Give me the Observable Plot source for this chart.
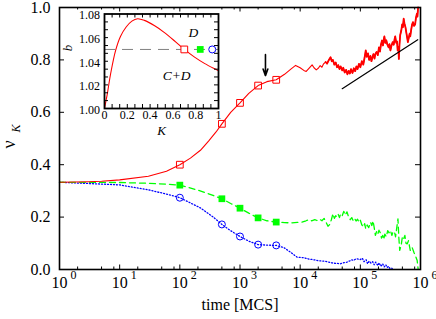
<!DOCTYPE html>
<html><head><meta charset="utf-8">
<script src="https://cdn.jsdelivr.net/npm/d3@7"></script>
<script src="https://cdn.jsdelivr.net/npm/@observablehq/plot@0.6"></script>
<style>
html,body{margin:0;padding:0;background:#fff;}
#chart{position:relative;width:436px;height:319px;overflow:hidden;background:#fff;}
#chart svg{position:absolute;}
</style></head><body><div id="chart"></div>
<script>
// ---- main chart data: [time (MCS), nu_K] ----
const redSeries = [[1,0.333],[3,0.335],[5,0.337],[10,0.342],[30,0.356],[60,0.375],[100,0.400],[150,0.425],[220,0.455],[300,0.49],[400,0.525],[500,0.556],[700,0.600],[1000,0.636],[1400,0.672],[2000,0.702],[2800,0.717],[4000,0.724],[5500,0.745],[7000,0.765],[8400,0.779],[10000,0.770],[11500,0.760],[12600,0.756],[14000,0.768],[15800,0.781],[17000,0.770],[18500,0.762],[20000,0.768],[21500,0.778],[23000,0.772],[24500,0.785],[26500,0.792],[28000,0.786],[30000,0.800],[32000,0.810],[33500,0.795],[35000,0.800],[37000,0.782],[39000,0.790],[41000,0.772],[43000,0.780],[45000,0.765],[47000,0.775],[50000,0.760],[52000,0.770],[55000,0.752],[58000,0.762],[61000,0.745],[64000,0.758],[67000,0.748],[70000,0.765],[74000,0.750],[78000,0.768],[82000,0.757],[86000,0.775],[90000,0.765],[95000,0.785],[100000,0.772],[106000,0.795],[112000,0.782],[118000,0.810],[123000,0.836],[128000,0.812],[134000,0.825],[140000,0.800],[147000,0.815],[153000,0.795],[158000,0.808],[165000,0.822],[172000,0.805],[178000,0.823],[186000,0.830],[195000,0.818],[204000,0.848],[212000,0.832],[220000,0.858],[229000,0.874],[238000,0.855],[245000,0.878],[251000,0.890],[260000,0.865],[270000,0.875],[282000,0.858],[295000,0.848],[305000,0.860],[316000,0.836],[330000,0.855],[345000,0.868],[359000,0.858],[370000,0.878],[380000,0.890],[395000,0.865],[408000,0.870],[417000,0.836],[428000,0.850],[437000,0.804],[448000,0.860],[460000,0.895],[479000,0.912],[495000,0.935],[510000,0.925],[525000,0.957],[540000,0.940],[562000,0.925],[585000,0.900],[605000,0.880],[617000,0.868],[640000,0.885],[660000,0.900],[676000,0.890],[700000,0.915],[725000,0.935],[750000,0.944],[780000,0.930],[813000,0.935],[840000,0.960],[871000,0.976],[890000,0.965],[912000,1.0]];

const greenSeries = [[1,0.333],[10,0.332],[30,0.329],[60,0.326],[100,0.322],[200,0.303],[300,0.289],[450,0.274],[500,0.270],[700,0.252],[1000,0.234],[1400,0.215],[2000,0.197],[2800,0.186],[4000,0.181],[5500,0.179],[7000,0.178],[9000,0.180],[10700,0.181],[12500,0.186],[13800,0.190],[15500,0.186],[17500,0.190],[19000,0.187],[21000,0.192],[23000,0.186],[25000,0.195],[27000,0.180],[29000,0.165],[31000,0.172],[33000,0.190],[35000,0.213],[37000,0.195],[39000,0.205],[41000,0.200],[43000,0.210],[45000,0.198],[47000,0.212],[50000,0.205],[53000,0.222],[56000,0.208],[60000,0.220],[64000,0.200],[68000,0.190],[72000,0.198],[76000,0.187],[80000,0.195],[85000,0.185],[90000,0.192],[95000,0.180],[100000,0.188],[106000,0.170],[112000,0.162],[118000,0.175],[123000,0.155],[130000,0.170],[138000,0.160],[148000,0.180],[155000,0.168],[163000,0.185],[170000,0.160],[178000,0.130],[186000,0.145],[195000,0.135],[204000,0.150],[215000,0.140],[225000,0.120],[235000,0.130],[245000,0.115],[255000,0.135],[270000,0.125],[285000,0.148],[300000,0.140],[316000,0.149],[335000,0.130],[350000,0.145],[370000,0.142],[385000,0.125],[398000,0.150],[422000,0.193],[437000,0.120],[452000,0.073],[479000,0.095],[500000,0.125],[525000,0.117],[550000,0.130],[575000,0.100],[603000,0.098],[631000,0.110],[676000,0.073],[724000,0.085],[776000,0.066],[832000,0.050],[881000,0.034],[912000,0.003]];

const blueSeries = [[1,0.333],[10,0.323],[30,0.304],[60,0.288],[100,0.274],[220,0.235],[360,0.200],[500,0.172],[700,0.148],[1000,0.126],[1400,0.108],[2000,0.095],[2800,0.093],[4000,0.092],[5400,0.083],[6900,0.066],[8900,0.047],[11500,0.045],[14000,0.040],[17000,0.037],[21000,0.033],[25000,0.032],[30000,0.028],[36000,0.024],[42000,0.023],[47000,0.022],[53000,0.026],[60000,0.028],[67000,0.033],[72000,0.037],[78000,0.035],[85000,0.041],[92000,0.040],[100000,0.038],[108000,0.043],[115000,0.030],[125000,0.037],[132000,0.022],[140000,0.032],[150000,0.025],[160000,0.030],[170000,0.018],[180000,0.028],[195000,0.015],[205000,0.025],[220000,0.012],[235000,0.022],[250000,0.010],[265000,0.018],[280000,0.008],[295000,0.012],[310000,0.004],[330000,0.006],[340000,0.002]];

const markerTimes = [100, 500, 1000, 2000, 4000];
const redMarks = [0.400, 0.556, 0.636, 0.702, 0.724];
const greenMarks = [0.322, 0.270, 0.234, 0.197, 0.181];
const blueMarks = [0.274, 0.172, 0.126, 0.095, 0.092];

const noisyFrom = 26000;
const blackLine = [[50000, 0.69], [900000, 0.877]];
const arrowData = [{t: 2650, from: 0.82, to: 0.74}];

const xMajor = [1, 10, 100, 1000, 10000, 100000, 1000000];
const xExps = ["0", "1", "2", "3", "4", "5", "6"];
const xMinor = [2,5,8,20,50,80,200,500,800,2000,5000,8000,20000,50000,80000,200000,500000,800000];
const yMajor = [0, 0.2, 0.4, 0.6, 0.8, 1.0];
const yLabels = ["0.0", "0.2", "0.4", "0.6", "0.8", "1.0"];

// ---- inset data: b vs K ----
const insetK = [0, 0.012, 0.024, 0.053, 0.097, 0.14, 0.19, 0.24, 0.29, 0.35, 0.44, 0.52, 0.61, 0.70, 0.79, 0.88, 0.98, 1.0];
const insetB = [1.000, 1.006, 1.012, 1.029, 1.049, 1.061, 1.069, 1.074, 1.076, 1.0746, 1.070, 1.0647, 1.0576, 1.050, 1.0435, 1.038, 1.033, 1.032];
const insetLevel = 1.05;
const insetMarkK = [0.70, 0.84, 0.945];
const insetTexts = [{K: 0.78, b: 1.064, t: "D"}, {K: 0.633, b: 1.028, t: "C+D"}];
const insetXTicks = [0, 0.2, 0.4, 0.6, 0.8, 1];
const insetXLabels = ["0", "0.2", "0.4", "0.6", "0.8", "1"];
const insetYTicks = [1.00, 1.02, 1.04, 1.06, 1.08];
const insetYLabels = ["1.00", "1.02", "1.04", "1.06", "1.08"];
const insetXMinor = [0.0667,0.1333,0.2,0.2667,0.3333,0.4,0.4667,0.5333,0.6,0.6667,0.7333,0.8,0.8667,0.9333];
const insetYMinor = [1.0067,1.0133,1.02,1.0267,1.0333,1.04,1.0467,1.0533,1.06,1.0667,1.0733];

const FONT = "'Liberation Serif', 'DejaVu Serif', serif";
const W = 436, H = 319, ML = 59, MR = 16, MT = 7, MB = 50;
const FW = W - ML - MR, FH = H - MT - MB;
const RED = "#ff0000", GREEN = "#00ff00", BLUE = "#0000ff";
const T = {fontFamily: FONT, fill: "black"};
const noisy = s => s.filter(d => d[0] >= noisyFrom);

const main = Plot.plot({
  width: W, height: H, marginLeft: ML, marginRight: MR, marginTop: MT, marginBottom: MB,
  style: `font-family: ${FONT}; background: transparent; color: black;`,
  x: {type: "log", domain: [1, 1e6], axis: null},
  y: {domain: [0, 1], axis: null},
  marks: [
    Plot.line(blueSeries, {x: d => d[0], y: d => d[1], stroke: BLUE, strokeWidth: 1.3, strokeDasharray: "1,2"}),
    Plot.line(greenSeries, {x: d => d[0], y: d => d[1], stroke: GREEN, strokeWidth: 1.3, strokeDasharray: "6,4"}),
    Plot.line(redSeries, {x: d => d[0], y: d => d[1], stroke: RED, strokeWidth: 1.1}),
    Plot.line(noisy(redSeries), {x: d => d[0], y: d => d[1], stroke: RED, strokeWidth: 1.8}),
    Plot.dot(markerTimes, {x: d => d, y: (d, i) => blueMarks[i], r: 3.5, stroke: BLUE, strokeWidth: 1}),
    Plot.dot(markerTimes, {x: d => d, y: (d, i) => greenMarks[i], symbol: "square", r: 3.8, fill: GREEN}),
    Plot.dot(markerTimes, {x: d => d, y: (d, i) => redMarks[i], symbol: "square", r: 3.8, stroke: RED, strokeWidth: 1, fill: "none"}),
    Plot.line(blackLine, {x: d => d[0], y: d => d[1], stroke: "black", strokeWidth: 1.2}),
    Plot.arrow(arrowData, {x1: d => d.t, x2: d => d.t, y1: d => d.from, y2: d => d.to, stroke: "black", strokeWidth: 1.6, headAngle: 40, headLength: 8}),
    Plot.tickX(xMajor, {x: d => d, insetTop: FH - 4.5, stroke: "black"}),
    Plot.tickX(xMajor, {x: d => d, insetBottom: FH - 4.5, stroke: "black"}),
    Plot.tickX(xMinor, {x: d => d, insetTop: FH - 2.5, stroke: "black"}),
    Plot.tickX(xMinor, {x: d => d, insetBottom: FH - 2.5, stroke: "black"}),
    Plot.tickY(yMajor, {y: d => d, insetRight: FW - 5, stroke: "black"}),
    Plot.tickY(yMajor, {y: d => d, insetLeft: FW - 5, stroke: "black"}),
    Plot.frame({stroke: "black", strokeWidth: 1.6}),
    Plot.text(yMajor, {...T, y: d => d, frameAnchor: "left", dx: -9, textAnchor: "end", text: (d, i) => yLabels[i], fontSize: 16}),
    Plot.text(xMajor, {...T, x: d => d, frameAnchor: "bottom", dy: 18, text: () => "10", fontSize: 16}),
    Plot.text(xMajor, {...T, x: d => d, frameAnchor: "bottom", dy: 9, dx: 11, textAnchor: "start", text: (d, i) => xExps[i], fontSize: 12}),
    Plot.text(["time [MCS]"], {...T, frameAnchor: "bottom", dy: 40, text: d => d, fontSize: 16}),
    Plot.text(["ν"], {...T, frameAnchor: "left", dx: -50, dy: 10, rotate: -90, text: d => d, fontSize: 18}),
    Plot.text(["K"], {...T, frameAnchor: "left", dx: -43, dy: -6, rotate: -90, text: d => d, fontSize: 12, fontStyle: "italic"})
  ]
});
main.style.left = "0px"; main.style.top = "0px";

const IW = 165, IH = 140, IL = 44, IR = 7, IT = 8.5, IB = 37;
const IFW = IW - IL - IR, IFH = IH - IT - IB;
const inset = Plot.plot({
  width: IW, height: IH, marginLeft: IL, marginRight: IR, marginTop: IT, marginBottom: IB,
  style: `font-family: ${FONT}; background: transparent; color: black;`,
  x: {domain: [0, 1], axis: null},
  y: {domain: [1, 1.08], axis: null},
  marks: [
    Plot.frame({fill: "white"}),
    Plot.ruleY([insetLevel], {y: d => d, stroke: "#808080", strokeWidth: 1, strokeDasharray: "11,7"}),
    Plot.line(insetK, {x: d => d, y: (d, i) => insetB[i], stroke: RED, strokeWidth: 1.1, curve: "catmull-rom"}),
    Plot.dot([insetMarkK[0]], {x: d => d, y: () => insetLevel, symbol: "square", r: 3.8, stroke: RED, strokeWidth: 1, fill: "white"}),
    Plot.dot([insetMarkK[1]], {x: d => d, y: () => insetLevel, symbol: "square", r: 3.8, fill: GREEN}),
    Plot.dot([insetMarkK[2]], {x: d => d, y: () => insetLevel, r: 3.5, stroke: BLUE, strokeWidth: 1, fill: "white"}),
    Plot.text(insetTexts, {...T, x: d => d.K, y: d => d.b, text: d => d.t, fontSize: 13.5, fontStyle: "italic"}),
    Plot.tickX(insetXMinor, {x: d => d, insetTop: IFH - 4, stroke: "black"}),
    Plot.tickX(insetXMinor, {x: d => d, insetBottom: IFH - 4, stroke: "black"}),
    Plot.tickY(insetYMinor, {y: d => d, insetRight: IFW - 4, stroke: "black"}),
    Plot.tickY(insetYMinor, {y: d => d, insetLeft: IFW - 4, stroke: "black"}),
    Plot.frame({stroke: "black", strokeWidth: 1.8}),
    Plot.text(insetXTicks, {...T, x: d => d, frameAnchor: "bottom", dy: 10.5, text: (d, i) => insetXLabels[i], fontSize: 12}),
    Plot.text(insetYTicks, {...T, y: d => d, frameAnchor: "left", dx: -4.5, dy: 1.5, textAnchor: "end", text: (d, i) => insetYLabels[i], fontSize: 12}),
    Plot.text(["K"], {...T, frameAnchor: "bottom", dy: 26, text: d => d, fontSize: 13, fontStyle: "italic"}),
    Plot.text(["b"], {...T, frameAnchor: "left", dx: -37, dy: -10, rotate: -90, text: d => d, fontSize: 13, fontStyle: "italic"})
  ]
});
inset.style.left = "60px"; inset.style.top = "5px";

const chart = document.getElementById("chart");
chart.appendChild(main);
chart.appendChild(inset);
</script></body></html>
